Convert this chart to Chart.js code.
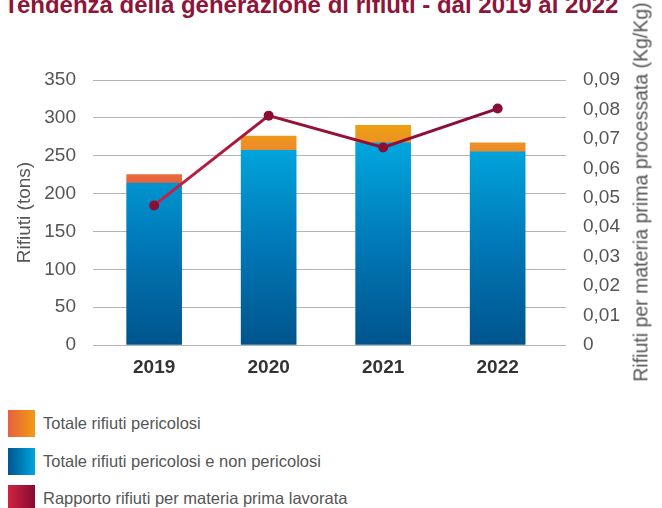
<!DOCTYPE html>
<html>
<head>
<meta charset="utf-8">
<script src="https://cdn.jsdelivr.net/npm/chart.js@4"></script>
<style>
  body { margin: 0; background: #fff; font-family: "Liberation Sans", Arial, sans-serif; }
  #page { position: relative; width: 662px; height: 508px; overflow: hidden; }
  #title { position: absolute; left: 4px; top: -7px; line-height: 24px; font-size: 24px; font-weight: bold; color: #8c1538; white-space: nowrap; }
  #chart-box { position: absolute; left: 0; top: 0; width: 662px; height: 400px; }
  #y1-title { position: absolute; left: 641px; top: 192px; transform: translate(-50%, -50%) rotate(-90deg); font-size: 19.5px; color: #555; white-space: nowrap; }
  .legend-item { position: absolute; left: 8px; height: 27px; display: flex; align-items: center; }
  .legend-item .box { width: 27px; height: 27px; margin-right: 8px; }
  .legend-item span { font-size: 16.5px; color: #555; }
</style>
</head>
<body>
<div id="page">
  <div id="title">Tendenza della generazione di rifiuti - dal 2019 al 2022</div>
  <div id="chart-box"><canvas id="waste-chart" width="662" height="400"></canvas></div>
  <div id="y1-title">Rifiuti per materia prima processata (Kg/Kg)</div>
  <div class="legend-item" style="top:410px"><div class="box" style="background:linear-gradient(to right,#e8603f,#f09c12)"></div><span>Totale rifiuti pericolosi</span></div>
  <div class="legend-item" style="top:448px"><div class="box" style="background:linear-gradient(to right,#00558f,#00a6de)"></div><span>Totale rifiuti pericolosi e non pericolosi</span></div>
  <div class="legend-item" style="top:485px"><div class="box" style="background:linear-gradient(to right,#cf2442,#880a33)"></div><span>Rapporto rifiuti per materia prima lavorata</span></div>
</div>
<script>
// Data
const years = ["2019", "2020", "2021", "2022"];
const totalNonHazardous = [214, 257, 267, 255];  // blue part of the bar
const totalHazardous = [11, 19, 23, 12];         // orange part on top
const wasteRatio = [0.0474, 0.0779, 0.0671, 0.0803];

const leftTicks = [0, 350, 50];
const rightTicks = [0, 0.09, 0.01];

const asPoints = (arr) => arr.map((v, i) => ({ x: i, y: v }));

// gradients are built once the chart area is known
const blueFill = function (context) {
  const { ctx, chartArea } = context.chart;
  if (!chartArea) return "#0080c0";
  const g = ctx.createLinearGradient(0, 140, 0, chartArea.bottom);
  g.addColorStop(0, "#00a8df");
  g.addColorStop(0.5, "#0079b8");
  g.addColorStop(1, "#00548c");
  return g;
};

const orangeFill = function (context) {
  const { ctx, chartArea } = context.chart;
  if (!chartArea) return "#ea8030";
  const g = ctx.createLinearGradient(0, 125, 0, 182);
  g.addColorStop(0, "#eda012");
  g.addColorStop(0.45, "#ec8a2c");
  g.addColorStop(1, "#e8623f");
  return g;
};

const lineStroke = function (context) {
  const { ctx, chartArea } = context.chart;
  if (!chartArea) return "#a01538";
  const g = ctx.createLinearGradient(150, 0, 500, 0);
  g.addColorStop(0, "#cc2243");
  g.addColorStop(0.4, "#951238");
  g.addColorStop(1, "#8a0c35");
  return g;
};

const tickFont = { family: "'Liberation Sans', Arial, sans-serif", size: 19 };

new Chart(document.getElementById("waste-chart").getContext("2d"), {
  type: "bar",
  data: {
    datasets: [
      {
        type: "line",
        label: "Rapporto rifiuti per materia prima lavorata",
        data: asPoints(wasteRatio),
        yAxisID: "y1",
        borderColor: lineStroke,
        borderWidth: 3,
        pointRadius: 5,
        pointBackgroundColor: "#8b0d36",
        pointBorderColor: "#8b0d36",
        pointBorderWidth: 0,
        tension: 0,
        order: 0,
      },
      {
        label: "Totale rifiuti pericolosi e non pericolosi",
        data: asPoints(totalNonHazardous),
        backgroundColor: blueFill,
        yAxisID: "y",
        barThickness: 55,
        order: 1,
      },
      {
        label: "Totale rifiuti pericolosi",
        data: asPoints(totalHazardous),
        backgroundColor: orangeFill,
        yAxisID: "y",
        barThickness: 55,
        order: 1,
      },
    ],
  },
  options: {
    responsive: false,
    animation: false,
    devicePixelRatio: 1,
    layout: { padding: { top: 80, left: 0, right: 0, bottom: 0 } },
    plugins: {
      legend: { display: false },
      tooltip: { enabled: false },
    },
    scales: {
      x: {
        type: "linear",
        stacked: true,
        offset: false,
        bounds: "data",
        min: -0.534,
        max: 3.597,
        grid: { display: false, drawTicks: false, offset: false },
        border: { display: false },
        ticks: {
          autoSkip: false,
          maxRotation: 0,
          padding: 11,
          color: "#333",
          font: { ...tickFont, weight: "bold" },
          callback: (value) => years[value] || "",
        },
        // one tick per year
        afterBuildTicks: (scale) => {
          scale.ticks = years.map((y, i) => ({ value: i }));
        },
        afterFit: (scale) => { scale.height = 55; },
      },
      y: {
        position: "left",
        stacked: true,
        min: leftTicks[0],
        max: leftTicks[1],
        grid: { color: "#b5b5b5", lineWidth: 1, drawTicks: false },
        border: { display: false },
        ticks: { stepSize: leftTicks[2], padding: 17, color: "#555", font: tickFont },
        title: {
          display: true,
          text: "Rifiuti (tons)",
          color: "#555",
          font: tickFont,
          padding: { top: 13, bottom: 0 },
        },
        afterFit: (scale) => { scale.width = 93; },
      },
      y1: {
        position: "right",
        min: rightTicks[0],
        max: rightTicks[1],
        grid: { display: false, drawTicks: false },
        border: { display: false },
        ticks: {
          stepSize: rightTicks[2],
          padding: 17,
          color: "#555",
          font: tickFont,
          callback: (value) => (value === 0 ? "0" : value.toFixed(2).replace(".", ",")),
        },
        afterFit: (scale) => { scale.width = 96; },
      },
    },
  },
});
</script>
</body>
</html>
